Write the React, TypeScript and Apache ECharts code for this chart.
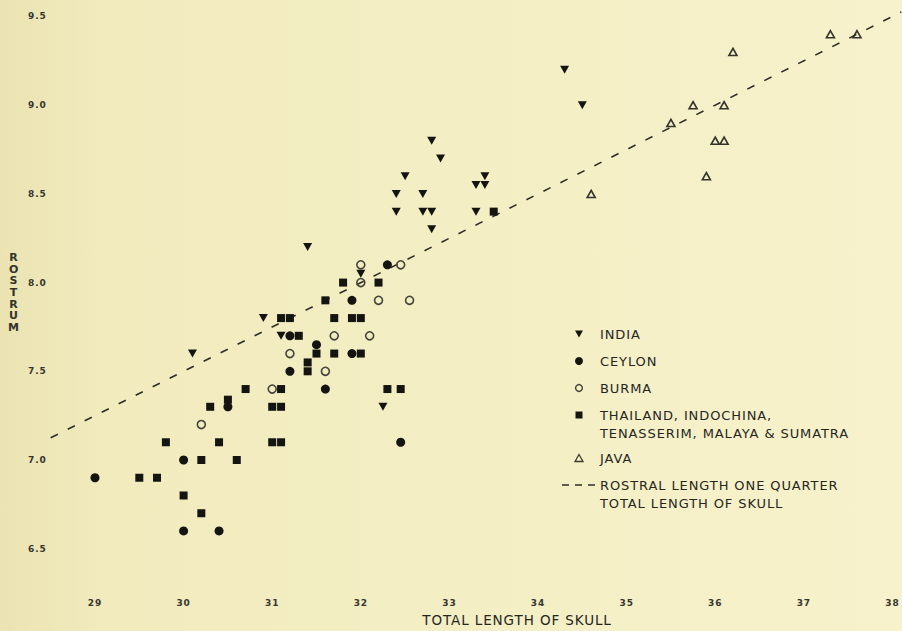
import React, { useEffect, useRef } from "react";
import * as echarts from "echarts";

// Tick labels
const xTicks = [29, 30, 31, 32, 33, 34, 35, 36, 37, 38];
const yTicks = [6.5, 7.0, 7.5, 8.0, 8.5, 9.0, 9.5];

// [total length of skull, rostrum]
const india: [number, number][] = [
  [30.1, 7.6], [30.9, 7.8], [31.1, 7.7], [31.4, 8.2], [32.0, 8.05], [32.25, 7.3],
  [32.4, 8.5], [32.4, 8.4], [32.5, 8.6], [32.7, 8.5], [32.7, 8.4], [32.8, 8.4],
  [32.8, 8.8], [32.8, 8.3], [32.9, 8.7], [33.3, 8.55], [33.3, 8.4], [33.4, 8.6],
  [33.4, 8.55], [34.3, 9.2], [34.5, 9.0],
];
const ceylon: [number, number][] = [
  [29.0, 6.9], [30.0, 7.0], [30.0, 6.6], [30.4, 6.6], [30.5, 7.3], [31.2, 7.7],
  [31.2, 7.5], [31.5, 7.65], [31.6, 7.4], [31.9, 7.9], [31.9, 7.6], [32.3, 8.1],
  [32.45, 7.1],
];
const burma: [number, number][] = [
  [30.2, 7.2], [31.0, 7.4], [31.2, 7.6], [31.6, 7.5], [31.7, 7.7], [32.0, 8.0],
  [32.0, 8.1], [32.1, 7.7], [32.2, 7.9], [32.45, 8.1], [32.55, 7.9],
];
const thailand: [number, number][] = [
  [29.5, 6.9], [29.7, 6.9], [29.8, 7.1], [30.0, 6.8], [30.2, 6.7], [30.2, 7.0],
  [30.3, 7.3], [30.4, 7.1], [30.5, 7.34], [30.6, 7.0], [30.7, 7.4], [31.0, 7.1],
  [31.0, 7.3], [31.1, 7.1], [31.1, 7.3], [31.1, 7.4], [31.1, 7.8], [31.2, 7.8],
  [31.3, 7.7], [31.4, 7.5], [31.4, 7.55], [31.5, 7.6], [31.6, 7.9], [31.7, 7.6],
  [31.7, 7.8], [31.8, 8.0], [31.9, 7.8], [32.0, 7.6], [32.0, 7.8], [32.2, 8.0],
  [32.3, 7.4], [32.45, 7.4], [33.5, 8.4],
];
const java: [number, number][] = [
  [34.6, 8.5], [35.5, 8.9], [35.75, 9.0], [35.9, 8.6], [36.0, 8.8], [36.1, 8.8],
  [36.1, 9.0], [36.2, 9.3], [37.3, 9.4], [37.6, 9.4],
];
// rostral length one quarter of total skull length
const quarterLine: [number, number][] = [[28.5, 7.125], [38.1, 9.525]];

const legendLabels = [
  "INDIA",
  "CEYLON",
  "BURMA",
  "THAILAND, INDOCHINA,",
  "TENASSERIM, MALAYA & SUMATRA",
  "JAVA",
  "ROSTRAL LENGTH ONE QUARTER",
  "TOTAL LENGTH OF SKULL",
];
const xAxisTitle = "TOTAL LENGTH OF SKULL";
const yAxisTitle = "ROSTRUM";

const INK = "#141410";
const TEXT = "#26261f";
const FONT = "DejaVu Sans";

export default function App() {
  const ref = useRef<HTMLDivElement>(null);

  useEffect(() => {
    if (!ref.current) return;
    const chart = echarts.init(ref.current, null, { renderer: "svg" });
    const labelStyle = {
      fontSize: 9,
      fontWeight: "bold" as const,
      color: "#36362e",
      fontFamily: FONT,
    };
    const legendText = (text: string, y: number) => ({
      type: "text",
      x: 600,
      y,
      z: 20,
      silent: true,
      style: {
        text,
        fontSize: 13,
        fontFamily: FONT,
        fill: TEXT,
        align: "left",
        verticalAlign: "middle",
      },
    });

    chart.setOption({
      animation: false,
      backgroundColor: "#f4efc7",
      grid: {
        left: 50.7,
        right: 0.7,
        top: 7.6,
        bottom: 46.8,
        containLabel: false,
        outerBoundsMode: "none",
      },
      xAxis: {
        type: "value",
        min: 28.5,
        max: 38.1,
        axisLine: { show: false },
        axisTick: { show: false },
        splitLine: { show: false },
        axisLabel: { ...labelStyle, margin: 14, customValues: xTicks },
      },
      yAxis: {
        type: "value",
        min: 6.3,
        max: 9.55,
        axisLine: { show: false },
        axisTick: { show: false },
        splitLine: { show: false },
        axisLabel: {
          ...labelStyle,
          margin: 4,
          customValues: yTicks,
          formatter: (v: number) => v.toFixed(1),
        },
      },
      series: [
        {
          type: "line",
          data: quarterLine,
          symbol: "none",
          silent: true,
          z: 1,
          lineStyle: { color: "#2e2e28", width: 1.6, type: [8, 11] },
        },
        {
          name: "INDIA",
          type: "scatter",
          data: india,
          symbol: "triangle",
          symbolRotate: 180,
          symbolSize: [9, 8],
          itemStyle: { color: INK, opacity: 1 },
        },
        {
          name: "CEYLON",
          type: "scatter",
          data: ceylon,
          symbol: "circle",
          symbolSize: 9,
          itemStyle: { color: INK, opacity: 1 },
        },
        {
          name: "BURMA",
          type: "scatter",
          data: burma,
          symbol: "circle",
          symbolSize: 8,
          itemStyle: { color: "rgba(0,0,0,0)", borderColor: "#44443a", borderWidth: 1.6, opacity: 1 },
        },
        {
          name: "THAILAND",
          type: "scatter",
          data: thailand,
          symbol: "rect",
          symbolSize: 8,
          itemStyle: { color: INK, opacity: 1 },
        },
        {
          name: "JAVA",
          type: "scatter",
          data: java,
          symbol: "triangle",
          symbolSize: [8, 7],
          itemStyle: { color: "rgba(0,0,0,0)", borderColor: "#33332b", borderWidth: 1.6, opacity: 1 },
        },
      ],
      graphic: [
        {
          type: "rect",
          z: -10,
          silent: true,
          shape: { x: 0, y: 0, width: 902, height: 631 },
          style: {
            fill: {
              type: "linear",
              x: 0,
              y: 0,
              x2: 1,
              y2: 0,
              colorStops: [
                { offset: 0, color: "#ebe3b2" },
                { offset: 0.12, color: "#f1ebbe" },
                { offset: 1, color: "#f7f2cb" },
              ],
            },
          },
        },
        {
          type: "text",
          x: 14,
          y: 292.5,
          silent: true,
          style: {
            text: yAxisTitle.split("").join("\n"),
            fontSize: 11,
            fontWeight: "bold",
            fontFamily: FONT,
            lineHeight: 11.7,
            fill: "#33332b",
            align: "center",
            verticalAlign: "middle",
          },
        },
        {
          type: "text",
          x: 517,
          y: 620,
          silent: true,
          style: {
            text: xAxisTitle,
            fontSize: 13.5,
            fontFamily: FONT,
            fill: TEXT,
            align: "center",
            verticalAlign: "middle",
          },
        },
        // legend markers
        {
          type: "polygon",
          z: 20,
          silent: true,
          shape: { points: [[575, 330.5], [583, 330.5], [579, 337.5]] },
          style: { fill: INK },
        },
        {
          type: "circle",
          z: 20,
          silent: true,
          shape: { cx: 579, cy: 361, r: 4 },
          style: { fill: INK },
        },
        {
          type: "circle",
          z: 20,
          silent: true,
          shape: { cx: 579, cy: 388, r: 3.4 },
          style: { fill: "none", stroke: "#44443a", lineWidth: 1.4 },
        },
        {
          type: "rect",
          z: 20,
          silent: true,
          shape: { x: 575.5, y: 411.5, width: 7, height: 7 },
          style: { fill: INK },
        },
        {
          type: "polygon",
          z: 20,
          silent: true,
          shape: { points: [[575, 461.5], [583, 461.5], [579, 454.5]] },
          style: { fill: "none", stroke: "#3a3a32", lineWidth: 1.3 },
        },
        {
          type: "line",
          z: 20,
          silent: true,
          shape: { x1: 562, y1: 485, x2: 595, y2: 485 },
          style: { stroke: "#2e2e28", lineWidth: 1.5, lineDash: [7, 6] },
        },
        legendText(legendLabels[0], 334),
        legendText(legendLabels[1], 361),
        legendText(legendLabels[2], 388),
        legendText(legendLabels[3], 415),
        legendText(legendLabels[4], 433),
        legendText(legendLabels[5], 458),
        legendText(legendLabels[6], 485),
        legendText(legendLabels[7], 503),
      ],
    });
    return () => chart.dispose();
  }, []);

  return (
    <div style={{ position: "fixed", left: 0, top: 0, width: 902, height: 631 }}>
      <style>{`.chartbox svg text { letter-spacing: 0.9px; }`}</style>
      <div ref={ref} className="chartbox" style={{ width: 902, height: 631 }} />
    </div>
  );
}
